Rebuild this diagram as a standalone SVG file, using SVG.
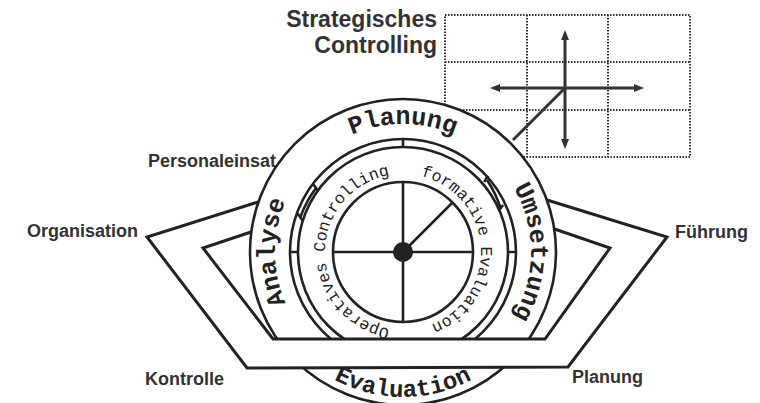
<svg xmlns="http://www.w3.org/2000/svg" xmlns:xlink="http://www.w3.org/1999/xlink" width="760" height="403" viewBox="0 0 760 403">
<style>
.lbl{font-family:"Liberation Sans",Arial,sans-serif;font-weight:bold;font-size:18px;fill:#333}
.ttl{font-family:"Liberation Sans",Arial,sans-serif;font-weight:bold;font-size:23px;fill:#333}
.band{font-family:"Liberation Mono","Courier New",monospace;font-weight:bold;font-size:25px;fill:#222}
.ring{font-family:"Liberation Mono","Courier New",monospace;font-size:16.5px;fill:#222}
.ln{fill:none;stroke:#222;stroke-width:2.6}
.hex{fill:none;stroke:#222;stroke-width:3;stroke-linejoin:miter}
.dot{fill:none;stroke:#333;stroke-width:2;stroke-dasharray:1.5 1.5}
.arr{stroke:#333;stroke-width:3;fill:none}
</style>
<defs>
<marker id="ah" viewBox="0 0 10 8" refX="5" refY="4" markerWidth="10" markerHeight="8" markerUnits="userSpaceOnUse" orient="auto-start-reverse">
<path d="M0,0 L10,4 L0,8 z" fill="#333"/>
</marker>
<path id="bandPath" d="M403,380 A128,128 0 1 1 403,124 A128,128 0 1 1 403,380"/>
<path id="innerPath" d="M403,330 A78,78 0 1 1 403,174 A78,78 0 1 1 403,330"/>
<path id="evalPath" d="M258,252 A145,145 0 0 0 548,252"/>
</defs>

<g id="label-personaleinsatz"><text class="lbl" x="148" y="167">Personaleinsat</text></g>
<g id="label-organisation"><text class="lbl" x="27" y="237">Organisation</text></g>
<g id="label-kontrolle"><text class="lbl" x="145" y="385">Kontrolle</text></g>
<g id="label-fuehrung"><text class="lbl" x="675" y="238">Führung</text></g>
<g id="label-planung"><text class="lbl" x="572" y="383">Planung</text></g>

<g id="strategic">
<text class="ttl" x="437" y="27" text-anchor="end">Strategisches</text>
<text class="ttl" x="437" y="53" text-anchor="end">Controlling</text>
<rect class="dot" x="445" y="15" width="245" height="142"/>
<line class="dot" x1="527" y1="15" x2="527" y2="157"/>
<line class="dot" x1="608" y1="15" x2="608" y2="157"/>
<line class="dot" x1="445" y1="62" x2="690" y2="62"/>
<line class="dot" x1="445" y1="110" x2="690" y2="110"/>
</g>

<g id="connectors">
<line class="arr" x1="565" y1="35" x2="565" y2="144" marker-start="url(#ah)" marker-end="url(#ah)"/>
<line class="arr" x1="495" y1="88" x2="639" y2="88" marker-start="url(#ah)" marker-end="url(#ah)"/>
<line class="arr" x1="565" y1="88" x2="513" y2="140"/>
</g>

<g id="wheel">
<circle class="ln" cx="403" cy="252" r="153" style="fill:#fff"/>
<circle class="ln" cx="403" cy="252" r="113"/>
<circle class="ln" cx="403" cy="252" r="105"/>
<path class="ln" d="M403,139 V147 M290,252 H298 M508,252 H516"/>
<path class="ln" stroke-width="2" d="M297.6,213.6 L302.6,220.6 M313.1,183.9 L317.7,190.3 M488,175.6 L484.2,182 M503.1,205 L498.5,211"/>
<path class="ln" stroke-width="2" d="M300.4,217.1 A109,109 0 0 1 316.2,187.7 M487,180 A109,109 0 0 1 500.5,208"/>
<circle class="ln" cx="403" cy="252" r="70"/>
<path class="ln" d="M333,252 H473 M403,182 V322 M403,252 L452.5,202.5"/>
<circle cx="403" cy="252" r="10" fill="#222"/>
<text class="band"><textPath href="#bandPath" xlink:href="#bandPath" startOffset="50%" text-anchor="middle">Planung</textPath></text>
<text class="band"><textPath href="#bandPath" xlink:href="#bandPath" startOffset="75%" text-anchor="middle">Umsetzung</textPath></text>
<text class="band"><textPath href="#bandPath" xlink:href="#bandPath" startOffset="25%" text-anchor="middle">Analyse</textPath></text>
<text class="band" style="font-size:24px"><textPath href="#evalPath" xlink:href="#evalPath" startOffset="50%" text-anchor="middle">Evaluation</textPath></text>
<text class="ring"><textPath href="#innerPath" xlink:href="#innerPath" startOffset="25%" text-anchor="middle">Operatives Controlling</textPath></text>
<text class="ring"><textPath href="#innerPath" xlink:href="#innerPath" startOffset="73.9%" text-anchor="middle">formative Evaluation</textPath></text>
</g>

<g id="hexagons">
<polygon points="225,339 589,339 568,367 247,368" fill="#fff"/>
<path class="hex" d="M258,202 L147,237 L247,368 L568,367 L667,237 L547,200"/>
<path class="hex" d="M251,232 L203,248 L273,339 L545,339 L610,248 L554.5,229"/>
</g>
</svg>
